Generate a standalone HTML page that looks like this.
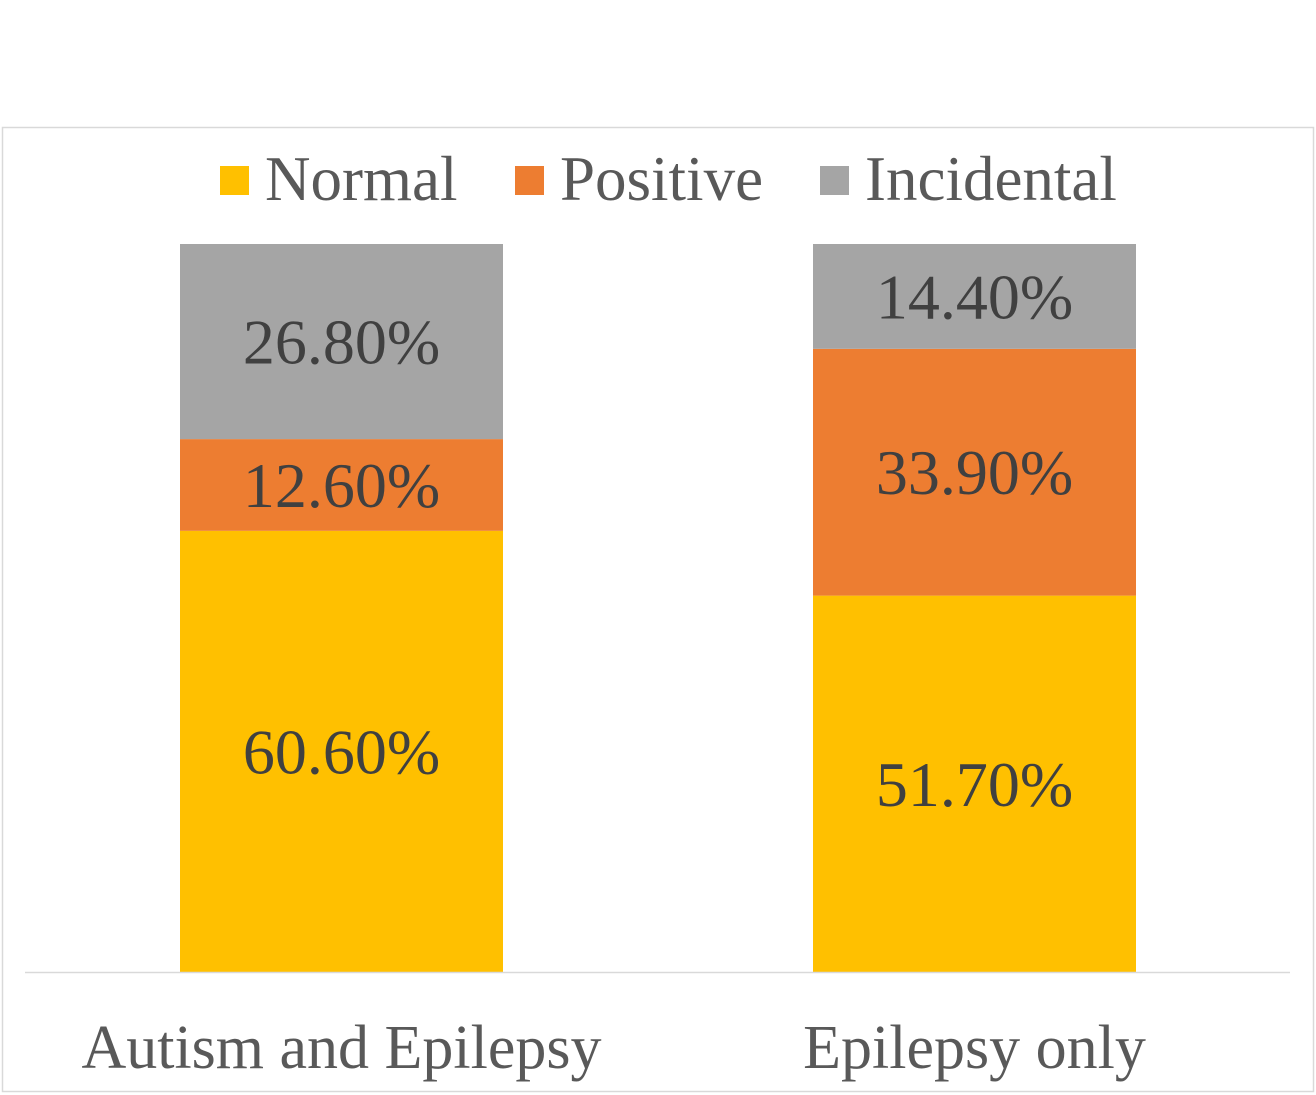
<!DOCTYPE html>
<html><head><meta charset="utf-8"><style>
html,body{margin:0;padding:0;background:#fff;}
svg{display:block;}
text{font-family:"Liberation Serif",serif;}
</style></head><body>
<svg width="1316" height="1095" viewBox="0 0 1316 1095">
<rect x="2.5" y="127.5" width="1311" height="964" fill="#fff" stroke="#d9d9d9" stroke-width="1.5"/>
<g id="legend"></g>
<g id="bars"></g>
<line x1="25" y1="972.5" x2="1290" y2="972.5" stroke="#d9d9d9" stroke-width="1.5"/>
<g id="cats"></g>
</svg>
<script>
const categories = ["Autism and Epilepsy", "Epilepsy only"];
const seriesNames = ["Normal", "Positive", "Incidental"];
const normal = [60.6, 51.7];
const positive = [12.6, 33.9];
const incidental = [26.8, 14.4];
const colors = ["#ffc000", "#ed7d31", "#a5a5a5"];
const NS = "http://www.w3.org/2000/svg";
const yBase = 972, yTop = 244;
function y(v){ return yBase - (v/100)*(yBase - yTop); }
const barW = 323;
function xCenter(i){ return 341.5 + i*633; }
const series = [normal, positive, incidental];
const bars = document.getElementById('bars');
categories.forEach((c,i)=>{
  let cum = 0;
  series.forEach((s,k)=>{
    const v = s[i];
    const y0 = y(cum), y1 = y(cum+v);
    const r = document.createElementNS(NS,'rect');
    r.setAttribute('x', xCenter(i)-barW/2);
    r.setAttribute('y', y1);
    r.setAttribute('width', barW);
    r.setAttribute('height', y0-y1);
    r.setAttribute('fill', colors[k]);
    
    
    bars.appendChild(r);
    const t = document.createElementNS(NS,'text');
    t.setAttribute('x', xCenter(i));
    t.setAttribute('y', (y0+y1)/2 + 22);
    t.setAttribute('text-anchor','middle');
    t.setAttribute('font-size','64');
    t.setAttribute('fill','#404040');
    t.textContent = v.toFixed(2) + '%';
    
    
    bars.appendChild(t);
    cum += v;
  });
  const ct = document.createElementNS(NS,'text');
  ct.setAttribute('x', xCenter(i));
  ct.setAttribute('y', 1068);
  ct.setAttribute('text-anchor','middle');
  ct.setAttribute('font-size','62');
  ct.setAttribute('fill','#595959');
  ct.textContent = c;
  
  
  document.getElementById('cats').appendChild(ct);
});
const legendX = [220, 515, 820];
const lg = document.getElementById('legend');
seriesNames.forEach((n,k)=>{
  const r = document.createElementNS(NS,'rect');
  r.setAttribute('x', legendX[k]); r.setAttribute('y', 166);
  r.setAttribute('width', 29); r.setAttribute('height', 29);
  r.setAttribute('fill', colors[k]);
  
  
  lg.appendChild(r);
  const t = document.createElementNS(NS,'text');
  t.setAttribute('x', legendX[k]+45); t.setAttribute('y', 200);
  t.setAttribute('font-size','63'); t.setAttribute('fill','#595959');
  t.textContent = n;
  
  
  lg.appendChild(t);
});
</script>
</body></html>
